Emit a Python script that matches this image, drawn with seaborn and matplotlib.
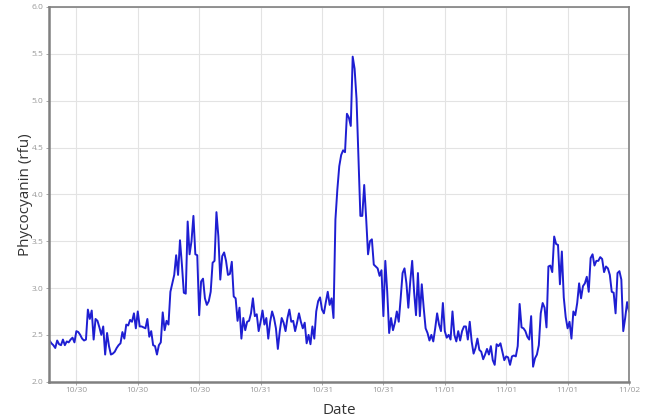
import matplotlib
matplotlib.use("Agg")
import matplotlib.pyplot as plt
import matplotlib.dates as mdates
import numpy as np
import pandas as pd
import seaborn as sns

# Phycocyanin readings every 15 minutes, 10/29 20:30 -> 11/02 00:00
start_time = "2015-10-29 20:30"
step = "15min"

vals_oct29_30 = [2.44, 2.41, 2.39, 2.36, 2.44, 2.40, 2.39, 2.45, 2.39, 2.43,
                 2.42, 2.45, 2.47, 2.42, 2.54, 2.53, 2.50, 2.46, 2.44, 2.45,
                 2.77, 2.67, 2.76, 2.45, 2.67, 2.65, 2.58, 2.50, 2.59, 2.29,
                 2.52, 2.38, 2.29, 2.30, 2.32, 2.36, 2.39, 2.41, 2.53, 2.46,
                 2.61, 2.60, 2.66, 2.64, 2.73, 2.57, 2.75, 2.59, 2.59, 2.58,
                 2.57, 2.67, 2.48, 2.54, 2.39, 2.38, 2.29, 2.39, 2.42, 2.74,
                 2.55, 2.65, 2.61, 2.96, 3.05, 3.14, 3.35, 3.14, 3.51, 3.25,
                 2.95, 2.94, 3.71, 3.36, 3.50]
vals_oct30_31 = [3.77, 3.36, 3.35, 2.71, 3.07, 3.10, 2.89, 2.82, 2.86, 2.96,
                 3.27, 3.29, 3.81, 3.55, 3.09, 3.34, 3.38, 3.29, 3.14, 3.15,
                 3.28, 2.91, 2.89, 2.65, 2.79, 2.46, 2.68, 2.55, 2.64, 2.65,
                 2.73, 2.89, 2.70, 2.72, 2.54, 2.64, 2.76, 2.61, 2.68, 2.46,
                 2.64, 2.75, 2.68, 2.57, 2.35, 2.54, 2.68, 2.63, 2.54, 2.68,
                 2.77, 2.64, 2.65, 2.54, 2.63, 2.73, 2.64, 2.57, 2.63, 2.41,
                 2.50, 2.40, 2.59, 2.46, 2.75, 2.86, 2.90, 2.77, 2.73, 2.85,
                 2.96, 2.82, 2.89, 2.68]
vals_peak = [3.73, 4.05, 4.30, 4.42, 4.47, 4.45, 4.86, 4.82, 4.73, 5.47,
             5.34, 5.02, 4.41, 3.77, 3.77, 4.10, 3.75]
vals_oct31_nov1 = [3.36, 3.50, 3.52, 3.25, 3.23, 3.21, 3.13, 3.19, 2.70, 3.29,
                   2.96, 2.52, 2.68, 2.55, 2.63, 2.75, 2.64, 2.89, 3.16, 3.21,
                   3.05, 2.79, 3.07, 3.29, 2.96, 2.71, 3.16, 2.70, 3.04, 2.79,
                   2.57, 2.52, 2.44, 2.50, 2.43, 2.57, 2.73, 2.61, 2.54, 2.84,
                   2.54, 2.47, 2.50, 2.45, 2.75, 2.50, 2.43, 2.54, 2.44, 2.54,
                   2.59, 2.59, 2.45, 2.64, 2.43, 2.30, 2.36, 2.46]
vals_nov1 = [2.34, 2.32, 2.24, 2.29, 2.35, 2.29, 2.38, 2.23, 2.18, 2.40,
             2.38, 2.41, 2.32, 2.23, 2.27, 2.26, 2.18, 2.27, 2.28, 2.27,
             2.38, 2.83, 2.58, 2.57, 2.54, 2.48, 2.45, 2.70, 2.16, 2.25,
             2.29, 2.39, 2.73, 2.84, 2.79, 2.58, 3.23, 3.24, 3.17, 3.55,
             3.47, 3.46, 3.04, 3.39, 2.90, 2.69, 2.57, 2.64, 2.46, 2.75,
             2.71, 2.84, 3.05, 2.89, 3.02, 3.05, 3.12, 2.96, 3.32, 3.36,
             3.24, 3.29, 3.29, 3.33, 3.31, 3.17, 3.23, 3.21, 3.14, 2.96,
             2.95, 2.73, 3.16, 3.18, 3.09, 2.54, 2.68, 2.85, 2.75]

values = vals_oct29_30 + vals_oct30_31 + vals_peak + vals_oct31_nov1 + vals_nov1
times = pd.date_range(start_time, periods=len(values), freq=step)
df = pd.DataFrame({"Date": times, "Phycocyanin (rfu)": values})

y_ticks = [2.0, 2.5, 3.0, 3.5, 4.0, 4.5, 5.0, 5.5, 6.0]

plt.rcParams["font.family"] = ["Open Sans", "DejaVu Sans"]

fig = plt.figure(figsize=(6.48, 4.18), dpi=100)
ax = fig.add_axes([0.0756, 0.0868, 0.8951, 0.8965])

sns.lineplot(data=df, x="Date", y="Phycocyanin (rfu)", ax=ax,
             color="#1e1ed2", linewidth=1.4)

ax.set_xlim(times[0] - pd.Timedelta(minutes=4), times[-1])
ax.set_ylim(2.0, 6.0)
ax.set_yticks(y_ticks)
ax.yaxis.set_major_formatter(matplotlib.ticker.FormatStrFormatter("%.1f"))
ax.xaxis.set_major_locator(mdates.HourLocator(byhour=[0, 8, 16]))
ax.xaxis.set_major_formatter(mdates.DateFormatter("%m/%d"))

ax.grid(True, color="#e3e3e3", linewidth=0.8)
ax.set_axisbelow(True)
for side in ["left", "bottom", "top", "right"]:
    ax.spines[side].set_color("#808080")
    ax.spines[side].set_linewidth(1.8)
ax.spines["top"].set_linewidth(1.2)
ax.spines["right"].set_linewidth(1.2)

ax.tick_params(axis="both", labelsize=6, colors="#999999", length=2, width=0.6, pad=2)
ax.set_xlabel("Date", fontsize=11, color="#333333", labelpad=6)
ax.set_ylabel("Phycocyanin (rfu)", fontsize=11, color="#333333", labelpad=-1)

fig.savefig("out.png", dpi=100, facecolor="white")
